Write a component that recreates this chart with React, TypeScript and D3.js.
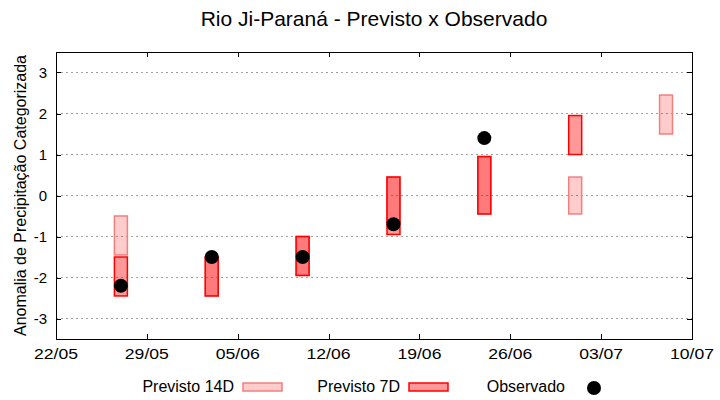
import React, { useEffect, useRef } from 'react';
import * as d3 from 'd3';

// dates of the forecasts (day/month)
const dates = ['27/05', '03/06', '10/06', '17/06', '24/06', '01/07', '08/07'];

// Previsto 14D ranges [low, high]
const prev14Low = [-1.45, -2.45, -1.95, -0.65, -0.45, -0.45, 1.5];
const prev14High = [-0.5, -1.5, -1.0, 0.45, 0.95, 0.45, 2.45];

// Previsto 7D ranges [low, high] (none for the last date)
const prev7Low = [-2.45, -2.45, -1.95, -0.95, -0.45, 1.0];
const prev7High = [-1.5, -1.5, -1.0, 0.45, 0.95, 1.95];

// Observado
const observado = [-2.2, -1.5, -1.5, -0.7, 1.4];

const xTickLabels = ['22/05', '29/05', '05/06', '12/06', '19/06', '26/06', '03/07', '10/07'];
const yTicks = [-3, -2, -1, 0, 1, 2, 3];

const parseDay = (s: string) => {
  const [d, m] = s.split('/').map(Number);
  return new Date(Date.UTC(2024, m - 1, d));
};

const App: React.FC = () => {
  const svgRef = useRef<SVGSVGElement>(null);
  const width = 720;
  const height = 400;

  useEffect(() => {
    if (!svgRef.current) return;
    const svg = d3.select(svgRef.current);
    svg.selectAll('*').remove();

    const margin = { top: 52, right: 28, bottom: 61, left: 56 };
    const x0 = margin.left;
    const x1 = width - margin.right;
    const y0 = margin.top;
    const y1 = height - margin.bottom;
    const font = '"Liberation Sans", Arial, sans-serif';

    const xScale = d3.scaleUtc()
      .domain([parseDay('22/05'), parseDay('10/07')])
      .range([x0, x1]);
    const yScale = d3.scaleLinear().domain([-3.5, 3.5]).range([y1, y0]);
    const dayW = xScale(parseDay('23/05')) - xScale(parseDay('22/05'));

    // grid
    svg.append('g')
      .selectAll('line')
      .data(yTicks)
      .enter().append('line')
      .attr('x1', x0).attr('x2', x1)
      .attr('y1', d => yScale(d)).attr('y2', d => yScale(d))
      .style('stroke', '#a0a0a0')
      .style('stroke-width', 1)
      .style('stroke-dasharray', '2,3');

    // tick marks (inward, mirrored)
    const tickG = svg.append('g').style('stroke', '#000').style('stroke-width', 1);
    yTicks.forEach(t => {
      const y = Math.round(yScale(t)) + 0.5;
      tickG.append('line').attr('x1', x0).attr('x2', x0 + 5).attr('y1', y).attr('y2', y);
      tickG.append('line').attr('x1', x1).attr('x2', x1 - 5).attr('y1', y).attr('y2', y);
    });
    xTickLabels.forEach(t => {
      const x = Math.round(xScale(parseDay(t))) + 0.5;
      tickG.append('line').attr('x1', x).attr('x2', x).attr('y1', y1).attr('y2', y1 - 5);
      tickG.append('line').attr('x1', x).attr('x2', x).attr('y1', y0).attr('y2', y0 + 5);
    });

    // Previsto 14D bars
    svg.append('g')
      .selectAll('rect')
      .data(dates.map((d, i) => ({ d, lo: prev14Low[i], hi: prev14High[i] })))
      .enter().append('rect')
      .attr('x', v => xScale(parseDay(v.d)) - dayW / 2)
      .attr('width', dayW)
      .attr('y', v => yScale(v.hi))
      .attr('height', v => yScale(v.lo) - yScale(v.hi))
      .style('fill', 'rgba(255,0,0,0.2)')
      .style('stroke', '#f08080')
      .style('stroke-width', 1.5);

    // Previsto 7D bars
    svg.append('g')
      .selectAll('rect')
      .data(prev7Low.map((lo, i) => ({ d: dates[i], lo, hi: prev7High[i] })))
      .enter().append('rect')
      .attr('x', v => xScale(parseDay(v.d)) - dayW / 2)
      .attr('width', dayW)
      .attr('y', v => yScale(v.hi))
      .attr('height', v => yScale(v.lo) - yScale(v.hi))
      .style('fill', 'rgba(255,0,0,0.4)')
      .style('stroke', '#ff0000')
      .style('stroke-width', 1.5);

    // Observado points
    svg.append('g')
      .selectAll('circle')
      .data(observado.map((v, i) => ({ d: dates[i], v })))
      .enter().append('circle')
      .attr('cx', p => xScale(parseDay(p.d)))
      .attr('cy', p => yScale(p.v))
      .attr('r', 7)
      .style('fill', '#000');

    // frame
    svg.append('rect')
      .attr('x', x0 + 0.5).attr('y', y0 + 0.5)
      .attr('width', x1 - x0).attr('height', y1 - y0)
      .style('fill', 'none')
      .style('stroke', '#000')
      .style('stroke-width', 1);

    // y tick labels
    svg.append('g')
      .selectAll('text')
      .data(yTicks)
      .enter().append('text')
      .attr('x', x0 - 9)
      .attr('y', d => yScale(d) + 5)
      .style('text-anchor', 'end')
      .style('font-family', font)
      .style('font-size', '15px')
      .text(d => `${d}`);

    // x tick labels
    svg.append('g')
      .selectAll('text')
      .data(xTickLabels)
      .enter().append('text')
      .attr('x', d => xScale(parseDay(d)))
      .attr('y', y1 + 20)
      .style('text-anchor', 'middle')
      .style('font-family', font)
      .style('font-size', '15px')
      .attr('textLength', 44)
      .attr('lengthAdjust', 'spacingAndGlyphs')
      .text(d => d);

    // axis label
    svg.append('text')
      .attr('transform', `translate(26, ${(y0 + y1) / 2}) rotate(-90)`)
      .style('text-anchor', 'middle')
      .style('font-family', font)
      .style('font-size', '16px')
      .text('Anomalia de Precipitação Categorizada');

    // title
    svg.append('text')
      .attr('x', (x0 + x1) / 2)
      .attr('y', 26)
      .style('text-anchor', 'middle')
      .style('font-family', font)
      .style('font-size', '21px')
      .text('Rio Ji-Paraná - Previsto x Observado');

    // legend
    const lg = svg.append('g').style('font-family', font).style('font-size', '16px');
    const ly = 387;
    lg.append('text').attr('x', 234).attr('y', ly + 5).style('text-anchor', 'end').text('Previsto 14D');
    lg.append('rect').attr('x', 243).attr('y', ly - 4).attr('width', 39).attr('height', 8)
      .style('fill', 'rgba(255,0,0,0.2)').style('stroke', '#f08080').style('stroke-width', 1.5);
    lg.append('text').attr('x', 400).attr('y', ly + 5).style('text-anchor', 'end').text('Previsto 7D');
    lg.append('rect').attr('x', 409).attr('y', ly - 4).attr('width', 39).attr('height', 8)
      .style('fill', 'rgba(255,0,0,0.4)').style('stroke', '#ff0000').style('stroke-width', 1.5);
    lg.append('text').attr('x', 565).attr('y', ly + 5).style('text-anchor', 'end').text('Observado');
    lg.append('circle').attr('cx', 594).attr('cy', ly + 1).attr('r', 7).style('fill', '#000');
  }, []);

  return (
    <svg
      ref={svgRef}
      width={width}
      height={height}
      style={{ position: 'absolute', left: 0, top: 0, background: '#fff' }}
    />
  );
};

export default App;
